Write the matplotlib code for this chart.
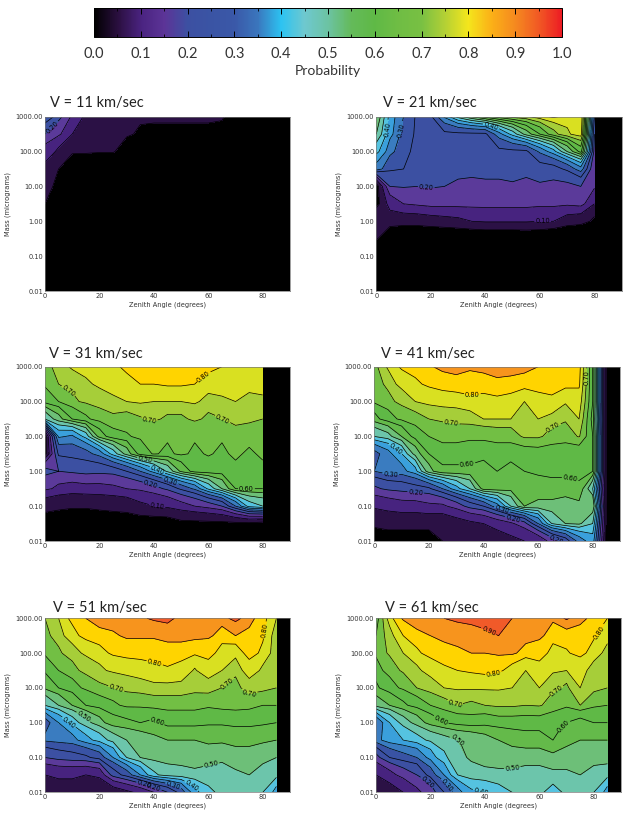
"""Detection probability contours against zenith angle and mass, one panel per speed"""
import matplotlib
matplotlib.use('Agg')
import matplotlib.pyplot as plt
import numpy as np
from matplotlib.cm import ScalarMappable
from matplotlib.colors import LinearSegmentedColormap, Normalize

nan = float('nan')

zenith = [0, 5, 10, 15, 20, 25, 30, 35, 40, 45, 50, 55, 60, 65, 70, 75, 80, 85, 90]
mass = [1000, 316.2, 100, 31.62, 10, 3.162, 1, 0.3162, 0.1, 0.03162, 0.01]
levels = [0.0, 0.05, 0.1, 0.15, 0.2, 0.25, 0.3, 0.35, 0.4, 0.45, 0.5, 0.55,
          0.6, 0.65, 0.7, 0.75, 0.8, 0.85, 0.9, 0.95, 1.0]
label_levels = [0.1, 0.2, 0.3, 0.4, 0.5, 0.6, 0.7, 0.8, 0.9]
plain_levels = [0.05, 0.15, 0.25, 0.35, 0.45, 0.55, 0.65, 0.75, 0.85, 0.95]
band_colors = ['#000000', '#2b1145', '#47237f', '#5b3a9a', '#3c50a2', '#3953a4',
               '#3a7cc0', '#3aa0dc', '#55c3e0', '#6cc5ab', '#6dbf78', '#64ba4a',
               '#5fb946', '#72bf44', '#a6ce39', '#d9e021', '#ffd400', '#f7941d',
               '#f15a29', '#ed1c24']
bar_colors = ['#000000', '#2a0f3f', '#4a2380', '#5c3497', '#3c50a2', '#3a54a4',
              '#3a58a8', '#3a76bd', '#2cc3f2', '#6ec8cf', '#6cc3a3', '#64ba5a',
              '#5fb946', '#6fbd44', '#78c043', '#b3d035', '#f4e61c', '#fbb017',
              '#f58a1f', '#f15a24', '#ed1c24']
tick_mass = [0.01, 0.1, 1, 10, 100, 1000]
tick_zenith = [0, 20, 40, 60, 80]

prob_v11 = [
    [.30, .22, .14, .09, .07, .07, .065, .065, .06, .06, .06, .06, .06, .06, 0, 0, 0, 0, 0],
    [.20, .16, .10, .07, .06, .06, .06, .04, .04, .04, .04, .04, .04, .03, 0, 0, 0, 0, 0],
    [.13, .09, .06, .06, .055, .055, .02, 0, 0, 0, 0, 0, 0, 0, 0, 0, 0, 0, 0],
    [.09, .05, .01, 0, 0, 0, 0, 0, 0, 0, 0, 0, 0, 0, 0, 0, 0, 0, 0],
    [.09, .02, 0, 0, 0, 0, 0, 0, 0, 0, 0, 0, 0, 0, 0, 0, 0, 0, 0],
    [.05, 0, 0, 0, 0, 0, 0, 0, 0, 0, 0, 0, 0, 0, 0, 0, 0, 0, 0],
    [0, 0, 0, 0, 0, 0, 0, 0, 0, 0, 0, 0, 0, 0, 0, 0, 0, 0, 0],
    [0, 0, 0, 0, 0, 0, 0, 0, 0, 0, 0, 0, 0, 0, 0, 0, 0, 0, 0],
    [0, 0, 0, 0, 0, 0, 0, 0, 0, 0, 0, 0, 0, 0, 0, 0, 0, 0, 0],
    [0, 0, 0, 0, 0, 0, 0, 0, 0, 0, 0, 0, 0, 0, 0, 0, 0, 0, 0],
    [0, 0, 0, 0, 0, 0, 0, 0, 0, 0, 0, 0, 0, 0, 0, 0, 0, 0, 0],
]
prob_v21 = [
    [.55, .38, .30, .24, .24, .36, .47, .55, .62, .68, .72, .74, .78, .81, .78, .80, .25, nan, nan],
    [.50, .37, .28, .24, .24, .24, .24, .24, .24, .33, .42, .52, .60, .68, .74, .78, .20, nan, nan],
    [.42, .32, .26, .24, .24, .24, .24, .24, .24, .24, .24, .24, .31, .38, .50, .62, .18, nan, nan],
    [.33, .26, .25, .235, .23, .225, .225, .225, .225, .225, .225, .225, .23, .23, .26, .33, .15, nan, nan],
    [.02, .20, .205, .20, .205, .20, .19, .185, .19, .19, .195, .185, .195, .19, .19, .20, .16, nan, nan],
    [.03, .12, .15, .16, .17, .17, .17, .17, .17, .17, .17, .17, .165, .165, .16, .17, .10, nan, nan],
    [.09, .08, .075, .075, .08, .085, .09, .10, .105, .105, .105, .105, .10, .10, .08, .07, .04, nan, nan],
    [.055, .01, .005, .005, .01, .012, .015, .016, .018, .018, .018, .02, .02, .01, 0, 0, 0, nan, nan],
    [0, 0, 0, 0, 0, 0, 0, 0, 0, 0, 0, 0, 0, 0, 0, 0, 0, nan, nan],
    [0, 0, 0, 0, 0, 0, 0, 0, 0, 0, 0, 0, 0, 0, 0, 0, 0, nan, nan],
    [0, 0, 0, 0, 0, 0, 0, 0, 0, 0, 0, 0, 0, 0, 0, 0, 0, nan, nan],
]
prob_v31 = [
    [.68, .72, .76, .78, .79, .79, .81, .82, .83, .84, .84, .82, .81, .80, .80, .80, .76, nan, nan],
    [.66, .70, .72, .74, .76, .78, .79, .80, .80, .81, .81, .80, .79, .79, .79, .80, .78, nan, nan],
    [.62, .65, .69, .71, .73, .74, .75, .76, .75, .75, .75, .76, .73, .74, .75, .72, .74, nan, nan],
    [.45, .53, .60, .64, .67, .69, .68, .695, .71, .69, .69, .71, .69, .70, .72, .71, .70, nan, nan],
    [.02, .36, .34, .42, .57, .63, .645, .66, .66, .66, .66, .66, .655, .66, .68, .68, .68, nan, nan],
    [.03, .26, .27, .28, .32, .42, .52, .62, .655, .64, .66, .64, .655, .64, .66, .64, .66, nan, nan],
    [.22, .20, .21, .22, .215, .22, .25, .30, .37, .46, .56, .62, .63, .63, .64, .64, .64, nan, nan],
    [.16, .14, .13, .135, .135, .14, .15, .16, .18, .21, .26, .31, .41, .50, .60, .60, .60, nan, nan],
    [.07, .06, .055, .055, .06, .065, .07, .09, .10, .11, .13, .15, .17, .20, .30, .42, .45, nan, nan],
    [.03, .03, .03, .03, .03, .03, .03, .03, .03, .03, .04, .04, .04, .04, .04, .04, .03, nan, nan],
    [0, 0, 0, 0, 0, 0, 0, 0, 0, 0, 0, 0, 0, 0, 0, 0, 0, nan, nan],
]
prob_v41 = [
    [.68, .76, .81, .83, .84, .87, .88, .86, .86, .88, .87, .87, .85, .84, .83, .82, .60, .04, nan],
    [.66, .72, .77, .79, .81, .82, .83, .83, .84, .84, .84, .83, .83, .83, .82, .81, .60, .04, nan],
    [.66, .68, .72, .75, .77, .78, .78, .79, .78, .79, .78, .75, .78, .79, .76, .78, .60, .04, nan],
    [.58, .63, .66, .68, .70, .71, .72, .73, .75, .75, .75, .72, .75, .74, .71, .75, .58, .04, nan],
    [.45, .48, .55, .62, .65, .67, .67, .66, .66, .67, .67, .71, .71, .68, .67, .705, .60, .04, nan],
    [.28, .33, .40, .52, .60, .63, .63, .63, .63, .63, .63, .625, .63, .63, .63, .62, .60, .04, nan],
    [.30, .33, .33, .38, .53, .59, .59, .59, .57, .60, .58, .60, .61, .62, .62, .62, .60, .04, nan],
    [.19, .21, .22, .23, .24, .30, .38, .45, .57, .58, .57, .57, .58, .58, .58, .59, .45, .04, nan],
    [.11, .12, .13, .13, .14, .14, .17, .22, .25, .33, .45, .55, .54, .54, .53, .54, .55, .04, nan],
    [.06, .07, .07, .07, .07, .07, .08, .09, .10, .12, .14, .18, .30, .45, .50, .51, .45, .04, nan],
    [.03, .03, .03, .03, .03, .05, .055, .06, .07, .08, .09, .10, .11, .17, .22, .32, .38, .03, nan],
]
prob_v51 = [
    [.70, .75, .82, .85, .87, .90, .90, .89, .91, .92, .88, .87, .86, .88, .92, .87, .82, .75, nan],
    [.68, .73, .78, .82, .84, .84, .86, .86, .86, .87, .87, .87, .86, .83, .85, .84, .81, .72, nan],
    [.66, .69, .73, .76, .78, .81, .82, .82, .82, .83, .83, .81, .82, .78, .77, .82, .79, .72, nan],
    [.61, .65, .68, .72, .74, .76, .77, .78, .79, .795, .78, .745, .78, .75, .72, .78, .74, .72, nan],
    [.56, .60, .63, .66, .69, .70, .72, .73, .74, .74, .74, .72, .73, .70, .68, .73, .72, .70, nan],
    [.45, .50, .55, .60, .62, .64, .66, .66, .67, .67, .67, .67, .66, .67, .67, .665, .65, .65, nan],
    [.27, .35, .42, .48, .53, .58, .59, .60, .59, .62, .62, .62, .61, .61, .62, .62, .61, .60, nan],
    [.31, .32, .33, .38, .42, .47, .50, .52, .54, .55, .55, .55, .56, .56, .56, .56, .56, .55, nan],
    [.20, .22, .23, .24, .27, .35, .45, .50, .52, .53, .53, .53, .53, .52, .54, .54, .52, .50, nan],
    [.10, .11, .11, .10, .11, .22, .27, .35, .44, .47, .48, .49, .48, .47, .49, .50, .48, .47, nan],
    [.07, .08, .08, .07, .07, .07, .09, .11, .15, .20, .27, .38, .44, .46, .47, .49, .45, .38, nan],
]
prob_v61 = [
    [.62, .78, .86, .88, .89, .90, .91, .92, .93, .93, .90, .88, .88, .86, .91, .86, .84, .80, nan],
    [.65, .73, .80, .84, .85, .86, .88, .88, .89, .90, .88, .88, .86, .83, .83, .84, .81, .78, nan],
    [.66, .71, .75, .79, .82, .84, .84, .85, .85, .86, .86, .83, .83, .78, .795, .815, .78, .73, nan],
    [.63, .67, .71, .74, .77, .79, .80, .81, .82, .81, .78, .75, .78, .76, .75, .77, .73, .72, nan],
    [.59, .63, .66, .70, .73, .75, .76, .76, .76, .76, .75, .72, .75, .715, .69, .75, .72, .70, nan],
    [.52, .55, .59, .62, .65, .68, .70, .69, .70, .71, .71, .70, .705, .68, .66, .70, .66, .65, nan],
    [.30, .40, .47, .52, .57, .60, .62, .63, .62, .63, .63, .63, .63, .62, .60, .58, .60, .60, nan],
    [.33, .38, .40, .43, .46, .48, .50, .51, .53, .55, .57, .58, .58, .60, .56, .55, .55, .55, nan],
    [.18, .25, .28, .30, .37, .44, .48, .51, .52, .53, .53, .53, .53, .54, .54, .52, .53, .53, nan],
    [.10, .13, .17, .20, .27, .35, .45, .48, .49, .49, .49, .48, .48, .49, .49, .50, .48, .47, nan],
    [.07, .08, .10, .14, .17, .25, .33, .39, .40, .43, .45, .46, .46, .43, .46, .47, .45, .38, nan],
]

labels_v11 = [(2, 560)]
labels_v21 = [(4.4, 440), (9, 400), (42, 500), (18, 5.6), (61, 0.95)]
labels_v31 = [(9, 220), (59, 440), (38, 23), (65, 28), (74, 0.28), (37, 2.5),
              (41, 1.0), (46, 0.5), (39, 0.45), (41, 0.08)]
labels_v41 = [(36, 140), (77, 500), (28, 19), (66, 15), (34, 1.8), (73, 1.8),
              (8, 4.6), (6, 0.68), (15, 0.18), (47, 0.09), (51, 0.05), (67, 0.0126)]
labels_v51 = [(40, 44), (79, 457), (26, 8.7), (67, 13.5), (41, 1.07), (72, 2.6),
              (13, 1.02), (61, 0.063), (8, 0.8), (54, 0.016), (47, 0.0145),
              (40, 0.0145), (36, 0.012)]
labels_v61 = [(41, 370), (43, 33), (81, 417), (29, 3.4), (67, 6.5), (24, 1.2),
              (69, 0.78), (30, 0.32), (50, 0.052), (39, 0.0145), (26, 0.016),
              (17, 0.012)]

panels = [
    ('V = 11 km/sec', prob_v11, labels_v11, (45, 116.7, 245, 174.3), (50, 103)),
    ('V = 21 km/sec', prob_v21, labels_v21, (376.3, 116.7, 245.4, 174.3), (383, 103)),
    ('V = 31 km/sec', prob_v31, labels_v31, (45, 366.7, 245, 174.3), (49, 354)),
    ('V = 41 km/sec', prob_v41, labels_v41, (374.3, 366.7, 245.7, 174.3), (381, 354)),
    ('V = 51 km/sec', prob_v51, labels_v51, (45, 618.3, 245, 174), (53, 608)),
    ('V = 61 km/sec', prob_v61, labels_v61, (376, 618.3, 245, 174), (385, 608)),
]

WIDTH, HEIGHT = 629, 818
TEXT_FONT = 'Lato'


def add_axes_px(fig, left, top, width, height):
    """Adds axes placed with pixel values measured from the top left corner."""
    return fig.add_axes([left / WIDTH, 1 - (top + height) / HEIGHT,
                         width / WIDTH, height / HEIGHT])


fig = plt.figure(figsize=(WIDTH / 100, HEIGHT / 100), dpi=100)

cax = add_axes_px(fig, 94, 8, 468, 29)
bar_cmap = LinearSegmentedColormap.from_list('prob', list(zip(levels, bar_colors)), N=512)
cbar = fig.colorbar(ScalarMappable(Normalize(0, 1), bar_cmap), cax=cax,
                    orientation='horizontal')
cbar.set_ticks(levels[::2])
cbar.set_ticks(levels[1::2], minor=True)
cbar.set_ticklabels(['%.1f' % lev for lev in levels[::2]])
cax.tick_params(which='major', direction='in', length=4, width=0.7, top=True,
                bottom=True, labelsize=10.5, pad=7, colors='black', labelcolor='#333333')
cax.tick_params(which='minor', direction='in', length=2.5, width=0.6, top=True,
                bottom=True, colors='black')
for label in cax.get_xticklabels():
    label.set_fontfamily(TEXT_FONT)
cbar.outline.set_linewidth(0.7)
cbar.set_label('Probability', fontsize=10, family=TEXT_FONT, color='#333333', labelpad=3)

for title, prob, label_points, box, title_xy in panels:
    ax = add_axes_px(fig, *box)
    ax.set_facecolor('black')
    grid = np.ma.masked_invalid(np.array(prob, dtype=float))
    ax.set_yscale('log')
    ax.set_xlim(0, 90)
    ax.set_ylim(0.01, 1000)
    ax.contourf(zenith, mass, grid, levels=levels, colors=band_colors)
    ax.contour(zenith, mass, grid, levels=plain_levels, colors='black', linewidths=0.5)
    # labelled levels go in their own set, manual clabel needs every level of a set
    lines = ax.contour(zenith, mass, grid, levels=label_levels, colors='black',
                       linewidths=0.5)
    ax.clabel(lines, fmt='%.2f', fontsize=4.8, inline=True, inline_spacing=1,
              manual=label_points)
    ax.set_xlim(0, 90)
    ax.set_ylim(0.01, 1000)
    ax.set_xticks(tick_zenith)
    ax.set_yticks(tick_mass)
    ax.set_yticklabels(['%.2f' % val for val in tick_mass])
    ax.minorticks_off()
    ax.tick_params(length=0, labelsize=4.8, pad=1.5, labelcolor='#333333')
    ax.set_xlabel('Zenith Angle (degrees)', fontsize=4.8, color='#333333', labelpad=1.5)
    ax.set_ylabel('Mass (micrograms)', fontsize=4.8, color='#333333')
    ax.yaxis.set_label_coords(-0.139, 0.5)
    for spine in ax.spines.values():
        spine.set_color('#777777')
        spine.set_linewidth(0.5)
    fig.text(title_xy[0] / WIDTH, 1 - title_xy[1] / HEIGHT, title, fontsize=10.5,
             family=TEXT_FONT, color='#222222', va='center')

fig.savefig('out.png', dpi=100)
